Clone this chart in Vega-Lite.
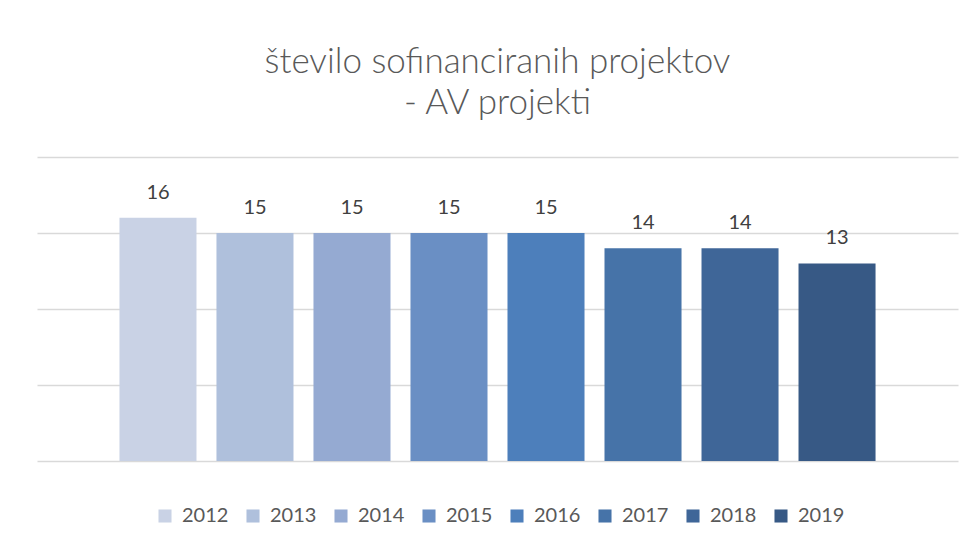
{
  "$schema": "https://vega.github.io/schema/vega-lite/v6.json",
  "width": 921,
  "height": 304,
  "autosize": "none",
  "padding": {"left": 37, "top": 157, "right": 19, "bottom": 85},
  "background": "white",
  "title": {
    "text": ["število sofinanciranih projektov", "- AV projekti"],
    "anchor": "middle",
    "font": "Lato",
    "fontSize": 35,
    "fontWeight": 300,
    "color": "#595959",
    "lineHeight": 41,
    "offset": 36
  },
  "data": {
    "values": [
      {"leto": "2012", "projekti": 16},
      {"leto": "2013", "projekti": 15},
      {"leto": "2014", "projekti": 15},
      {"leto": "2015", "projekti": 15},
      {"leto": "2016", "projekti": 15},
      {"leto": "2017", "projekti": 14},
      {"leto": "2018", "projekti": 14},
      {"leto": "2019", "projekti": 13}
    ]
  },
  "encoding": {
    "x": {
      "field": "leto",
      "type": "nominal",
      "scale": {"paddingInner": 0.206, "paddingOuter": 0.85},
      "axis": null
    },
    "y": {
      "field": "projekti",
      "type": "quantitative",
      "scale": {"domain": [0, 20], "nice": false},
      "axis": {
        "values": [0, 5, 10, 15, 20],
        "labels": false,
        "ticks": false,
        "domain": false,
        "title": null,
        "grid": true,
        "gridColor": "#D9D9D9",
        "gridWidth": 1.3
      }
    }
  },
  "layer": [
    {
      "mark": {"type": "bar"},
      "encoding": {
        "color": {
          "field": "leto",
          "type": "nominal",
          "scale": {
            "range": ["#C9D2E5", "#AFC0DC", "#95AAD2", "#6A8FC4", "#4D7FBB", "#4673A8", "#3F6698", "#375985"]
          },
          "legend": {
            "title": null,
            "orient": "none",
            "direction": "horizontal",
            "legendX": 118,
            "legendY": 349,
            "symbolType": "square",
            "symbolSize": 170,
            "symbolStrokeWidth": 0,
            "labelFont": "Lato",
            "labelFontSize": 20,
            "labelColor": "#595959",
            "columnPadding": 14,
            "labelOffset": 7
          }
        }
      }
    },
    {
      "mark": {
        "type": "text",
        "baseline": "bottom",
        "dy": -15,
        "font": "Lato",
        "fontSize": 20,
        "color": "#404040"
      },
      "encoding": {
        "text": {"field": "projekti", "type": "quantitative"}
      }
    }
  ],
  "config": {"view": {"stroke": null}}
}
